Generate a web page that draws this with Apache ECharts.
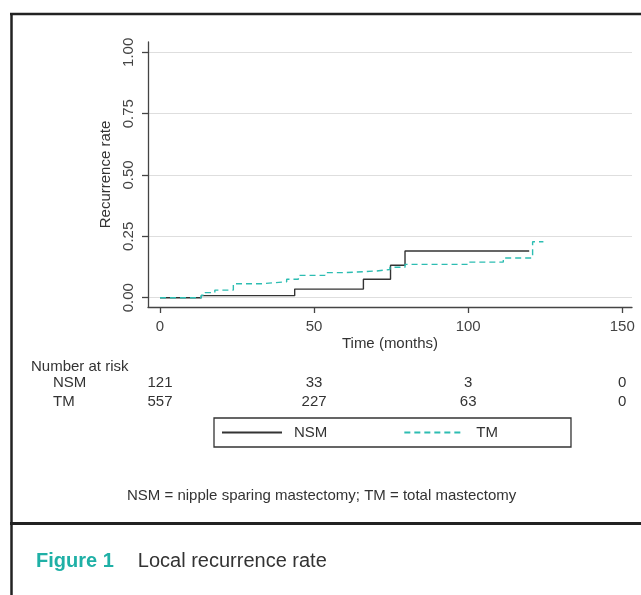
<!DOCTYPE html>
<html>
<head>
<meta charset="utf-8">
<script src="https://cdn.jsdelivr.net/npm/echarts@6/dist/echarts.min.js"></script>
<style>
  html, body { margin: 0; padding: 0; background: #fff; }
  #chart { width: 641px; height: 595px; }
</style>
</head>
<body>
<div id="chart"></div>
<script>
// Kaplan-Meier style cumulative recurrence, step changes (months, rate)
const nsmTime = [0, 13.4, 43.7, 66.0, 74.8, 79.5, 119.8];
const nsmRate = [0, 0.0083, 0.035, 0.075, 0.132, 0.19, 0.19];
const tmTime = [0, 13.4, 14.6, 17.8, 23.8, 33.0, 41.1, 44.9, 53.5, 60.0, 70.3, 74.6, 79.5, 100.1, 111.4, 120.9, 124.4];
const tmRate = [0, 0.010, 0.0205, 0.031, 0.057, 0.065, 0.075, 0.091, 0.102, 0.109, 0.115, 0.124, 0.136, 0.145, 0.162, 0.228, 0.228];

// Axis ticks
const xTicks = [0, 50, 100, 150];
const yTicks = [0, 0.25, 0.5, 0.75, 1];

// Number at risk table
const riskGroups = ['NSM', 'TM'];
const riskTimes = [0, 50, 100, 150];
const nsmAtRisk = [121, 33, 3, 0];
const tmAtRisk = [557, 227, 63, 0];

const FONT = '"Liberation Sans", Arial, sans-serif';
const TEAL = '#2dbdb2';

const pairs = (xs, ys) => xs.map((x, i) => [x, ys[i]]);
const riskData = [];
riskTimes.forEach((t, i) => {
  riskData.push([t, 0, nsmAtRisk[i]]);
  riskData.push([t, 1, tmAtRisk[i]]);
});

const chart = echarts.init(document.getElementById('chart'), null, { renderer: 'canvas' });

chart.setOption({
  backgroundColor: '#fff',
  animation: false,
  textStyle: { fontFamily: FONT },
  title: [
    {
      text: 'Number at risk', left: 31, top: 359, padding: 0,
      textStyle: { fontFamily: FONT, fontSize: 15, fontWeight: 'normal', color: '#333' }
    },
    {
      text: 'NSM = nipple sparing mastectomy; TM = total mastectomy', left: 127, top: 488, padding: 0,
      textStyle: { fontFamily: FONT, fontSize: 15, fontWeight: 'normal', color: '#333' }
    },
    {
      text: '{a|Figure 1}{b|Local recurrence rate}', left: 36, top: 551, padding: 0,
      textStyle: {
        fontWeight: 'normal',
        rich: {
          a: { fontFamily: FONT, fontSize: 20, fontWeight: 'bold', color: '#1fb0a6' },
          b: { fontFamily: FONT, fontSize: 20, fontWeight: 'normal', color: '#333', padding: [0, 0, 0, 24] }
        }
      }
    }
  ],
  legend: {
    data: ['NSM', 'TM'],
    left: 214, top: 418,
    padding: [7, 73, 7, 7],
    itemWidth: 60, itemHeight: 14, itemGap: 76,
    itemStyle: { color: 'rgba(0,0,0,0)', borderWidth: 0, opacity: 0 },
    borderColor: '#333', borderWidth: 1.3, borderRadius: 0,
    textStyle: { fontFamily: FONT, fontSize: 15, color: '#333', padding: [0, 0, 0, 7] }
  },
  grid: [
    { left: 148, right: 9, top: 42, bottom: 288 },
    { left: 148, right: 9, top: 374, height: 37 }
  ],
  xAxis: [
    {
      type: 'value', gridIndex: 0, min: -3.89, max: 153.15,
      name: 'Time (months)', nameLocation: 'middle', nameGap: 29,
      nameTextStyle: { fontFamily: FONT, fontSize: 15, color: '#333' },
      axisLine: { show: true, onZero: false, lineStyle: { color: '#444', width: 1.3 } },
      axisTick: { show: true, length: 6, customValues: xTicks, lineStyle: { color: '#444', width: 1.3 } },
      axisLabel: { customValues: xTicks, margin: 12, fontFamily: FONT, fontSize: 15, color: '#444' },
      splitLine: { show: false }
    },
    {
      type: 'value', gridIndex: 1, min: -3.89, max: 153.15,
      show: false
    }
  ],
  yAxis: [
    {
      type: 'value', gridIndex: 0, min: -0.0379, max: 1.042,
      name: 'Recurrence rate', nameLocation: 'middle', nameGap: 31,
      nameTextStyle: { fontFamily: FONT, fontSize: 15, color: '#333' },
      axisLine: { show: true, onZero: false, lineStyle: { color: '#444', width: 1.3 } },
      axisTick: { show: true, length: 6, customValues: yTicks, lineStyle: { color: '#444', width: 1.3 } },
      axisLabel: {
        customValues: yTicks, rotate: 90, margin: 12, fontFamily: FONT, fontSize: 15, color: '#444',
        formatter: v => v.toFixed(2)
      },
      splitLine: { show: true, lineStyle: { color: '#dedede', width: 1 } }
    },
    {
      type: 'category', gridIndex: 1, data: riskGroups, inverse: true,
      axisLine: { show: false }, axisTick: { show: false }, splitLine: { show: false },
      axisLabel: { interval: 0, align: 'left', margin: 95, fontFamily: FONT, fontSize: 15, color: '#333' }
    }
  ],
  series: [
    {
      name: 'NSM', type: 'line', step: 'end', xAxisIndex: 0, yAxisIndex: 0,
      data: pairs(nsmTime, nsmRate), symbol: 'none',
      lineStyle: { color: '#333', width: 1.4 }, itemStyle: { color: '#333' }
    },
    {
      name: 'TM', type: 'line', step: 'end', xAxisIndex: 0, yAxisIndex: 0,
      data: pairs(tmTime, tmRate), symbol: 'none',
      lineStyle: { color: TEAL, width: 1.4, type: [6, 4] }, itemStyle: { color: TEAL }
    },
    {
      // numbers at risk, placed on the time scale of the plot
      name: 'risk', type: 'custom', xAxisIndex: 1, yAxisIndex: 1,
      data: riskData, silent: true,
      encode: { x: 0, y: 1 },
      renderItem: (params, api) => {
        const pt = api.coord([api.value(0), api.value(1)]);
        return {
          type: 'text',
          x: pt[0], y: pt[1],
          style: {
            text: String(api.value(2)),
            fill: '#333', font: '15px ' + FONT,
            align: 'center', verticalAlign: 'middle'
          }
        };
      }
    }
  ],
  graphic: [
    { type: 'line', shape: { x1: 11.5, y1: 13, x2: 11.5, y2: 595 }, style: { stroke: '#222', lineWidth: 2.5 } },
    { type: 'line', shape: { x1: 10, y1: 14, x2: 641, y2: 14 }, style: { stroke: '#222', lineWidth: 2.5 } },
    { type: 'line', shape: { x1: 10, y1: 523.5, x2: 641, y2: 523.5 }, style: { stroke: '#222', lineWidth: 3 } }
  ]
});
</script>
</body>
</html>
